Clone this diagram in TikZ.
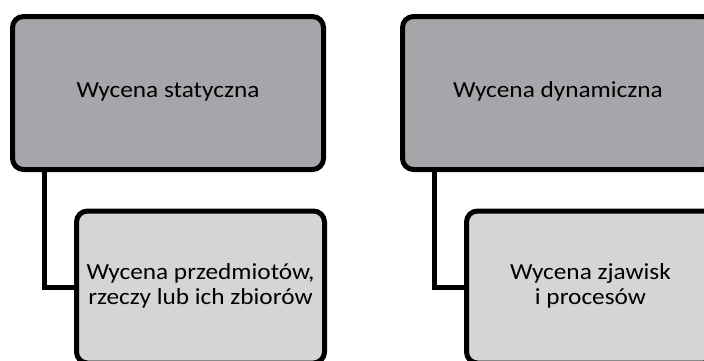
\documentclass[tikz,border=0pt]{standalone}
\usepackage{fontspec}
\setmainfont{Carlito}
\usepackage{graphicx}
\usetikzlibrary{backgrounds}
\definecolor{parentfill}{RGB}{166,165,169}
\definecolor{childfill}{RGB}{213,213,213}
\newcommand{\stretchtext}[1]{\scalebox{1.1}[1]{\begin{tabular}{@{}c@{}}#1\end{tabular}}}
\begin{document}
\begin{tikzpicture}[x=1pt,y=-1pt,
  parentbox/.style={draw=black, line width=5pt, rounded corners=11pt, fill=parentfill,
    minimum width=311pt, minimum height=153pt, inner sep=0pt, outer sep=0pt,
    font=\fontsize{23}{24.4}\selectfont, text=black},
  childbox/.style={draw=black, line width=5pt, rounded corners=11pt, fill=childfill,
    minimum width=248pt, minimum height=152pt, inner sep=0pt, outer sep=0pt,
    font=\fontsize{23}{24.4}\selectfont, text=black},
  link/.style={draw=black, line width=5pt}]
\clip (0,0) rectangle (704,360);
% left group
\node[parentbox] (p1) at (168,93) {\stretchtext{Wycena statyczna}};
\node[childbox] (c1) at (200.5,287) {\stretchtext{Wycena przedmiotów,\\rzeczy lub ich zbiorów}};
\coordinate (s1) at ([xshift=31.5pt]p1.south west);
% right group
\node[parentbox] (p2) at (558,93) {\stretchtext{Wycena dynamiczna}};
\node[childbox] (c2) at (590.5,287) {\stretchtext{Wycena zjawisk\\i procesów}};
\coordinate (s2) at ([xshift=31.5pt]p2.south west);
% connectors behind boxes
\begin{scope}[on background layer]
\fill[white] (0,0) rectangle (704,360);
\draw[link] (s1) |- (c1.west);
\draw[link] (s2) |- (c2.west);
\end{scope}
\end{tikzpicture}
\end{document}
